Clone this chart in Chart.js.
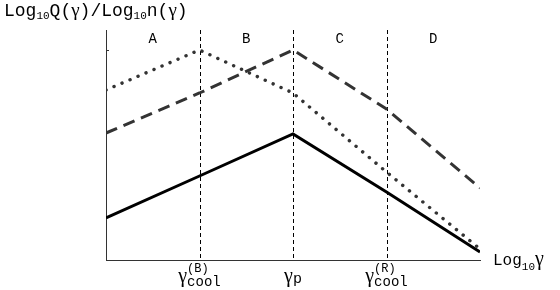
<!DOCTYPE html>
<html>
<head>
<meta charset="utf-8">
<script src="https://cdn.jsdelivr.net/npm/chart.js@4/dist/chart.umd.min.js"></script>
<style>
  html, body { margin: 0; background: #fff; }
  #wrap { width: 560px; height: 290px; }
</style>
</head>
<body>
<div id="wrap"><canvas id="spectra"></canvas></div>
<script>
// log10(gamma) positions of the break points
const logGamma = [0, 1, 2, 3, 4];
const regionNames = ['A', 'B', 'C', 'D'];
// labels under the dashed breaks: [superscript, subscript]
const breakLabels = [['(B)', 'cool'], ['', 'p'], ['(R)', 'cool']];
// curves, read at each break point
const solidVals = [42, 84, 126, 68, 8];
const dottedVals = [170, 210, 167, 88, 11];
const dashedVals = [127, 167, 210, 151, 72];
const yTickLevel = 210;

const MONO = 'Liberation Mono';
const GAMMA = 'Liberation Serif';

function pts(vals) {
  return logGamma.map((x, i) => ({ x: x, y: vals[i] }));
}

// draw text pieces one after another (sub/superscripts);
// a piece with stack:true sits over the previous one instead of after it
function drawRuns(ctx, x, y, runs, align) {
  let w = 0;
  runs.forEach((r, i) => {
    ctx.font = r.f;
    r.w = ctx.measureText(r.t).width;
  });
  runs.forEach((r, i) => {
    if (!r.stack) w += r.w;
    else if (r.w > runs[i - 1].w) w += r.w - runs[i - 1].w;
  });
  let cx = align === 'center' ? x - w / 2 : x;
  let last = 0;
  runs.forEach(r => {
    ctx.font = r.f;
    const px = r.stack ? cx - last : cx;
    ctx.fillText(r.t, px, y + (r.dy || 0));
    if (!r.stack) { cx += r.w; last = r.w; }
  });
}

const guides = {
  id: 'guides',
  beforeDatasetsDraw(chart) {
    const { ctx, chartArea, scales: { x } } = chart;
    ctx.save();
    ctx.strokeStyle = '#000';
    ctx.lineWidth = 1;
    ctx.setLineDash([4, 3]);
    logGamma.slice(1, -1).forEach(v => {
      const px = Math.round(x.getPixelForValue(v)) + 0.5;
      ctx.beginPath();
      ctx.moveTo(px, chartArea.top);
      ctx.lineTo(px, chartArea.bottom);
      ctx.stroke();
    });
    ctx.restore();
  },
  afterDraw(chart) {
    const { ctx, chartArea, scales: { x, y } } = chart;
    ctx.save();
    ctx.fillStyle = '#000';
    ctx.textBaseline = 'alphabetic';

    // small tick on the y axis
    ctx.strokeStyle = '#333';
    ctx.lineWidth = 1;
    const ty = Math.round(y.getPixelForValue(yTickLevel)) + 0.5;
    ctx.beginPath();
    ctx.moveTo(chartArea.left, ty);
    ctx.lineTo(chartArea.left + 3, ty);
    ctx.stroke();

    // region letters
    ctx.font = '14px ' + MONO;
    ctx.textAlign = 'center';
    regionNames.forEach((n, i) => {
      const cx = (x.getPixelForValue(logGamma[i]) + x.getPixelForValue(logGamma[i + 1])) / 2;
      ctx.fillText(n, cx, chartArea.top + 13);
    });
    ctx.textAlign = 'left';

    // break labels under the x axis
    breakLabels.forEach((lb, i) => {
      const cx = x.getPixelForValue(logGamma[i + 1]);
      const runs = [{ t: 'γ', f: '20px ' + GAMMA }];
      if (lb[0]) {
        runs.push({ t: lb[1], f: '14px ' + MONO, dy: 4 });
        runs.push({ t: lb[0], f: '12px ' + MONO, dy: -10, stack: true });
      } else {
        runs.push({ t: lb[1], f: '15px ' + MONO, dy: 1 });
      }
      drawRuns(ctx, cx, chartArea.bottom + 22, runs, 'center');
    });

    // axis titles
    drawRuns(ctx, 4, 16, [
      { t: 'Log', f: '18px ' + MONO },
      { t: '10', f: '11px ' + MONO, dy: 3 },
      { t: 'Q(', f: '18px ' + MONO },
      { t: 'γ', f: '19px ' + GAMMA },
      { t: ')/Log', f: '18px ' + MONO },
      { t: '10', f: '11px ' + MONO, dy: 3 },
      { t: 'n(', f: '18px ' + MONO },
      { t: 'γ', f: '19px ' + GAMMA },
      { t: ')', f: '18px ' + MONO }
    ], 'left');
    drawRuns(ctx, chartArea.right + 13, chartArea.bottom + 5, [
      { t: 'Log', f: '16px ' + MONO },
      { t: '10', f: '11px ' + MONO, dy: 5 },
      { t: 'γ', f: '20px ' + GAMMA }
    ], 'left');
    ctx.restore();
  }
};

new Chart(document.getElementById('spectra'), {
  type: 'line',
  data: {
    datasets: [
      {
        label: 'dashed',
        data: pts(dashedVals),
        borderColor: '#333',
        borderWidth: 3,
        borderDash: [12, 7],
        pointRadius: 0,
        tension: 0
      },
      {
        label: 'dotted',
        data: pts(dottedVals),
        borderColor: '#333',
        borderWidth: 3.4,
        borderDash: [0.1, 8.6],
        borderCapStyle: 'round',
        pointRadius: 0,
        tension: 0
      },
      {
        label: 'solid',
        data: pts(solidVals),
        borderColor: '#000',
        borderWidth: 3,
        pointRadius: 0,
        tension: 0
      }
    ]
  },
  options: {
    responsive: true,
    maintainAspectRatio: false,
    animation: false,
    events: [],
    layout: { padding: { left: 106, right: 80, top: 30, bottom: 30 } },
    plugins: { legend: { display: false }, tooltip: { enabled: false } },
    scales: {
      x: {
        type: 'linear', min: 0, max: 4,
        ticks: { display: false },
        grid: { display: false },
        border: { display: true, color: '#333', width: 1 },
        afterFit: s => { s.height = 0; }
      },
      y: {
        type: 'linear', min: 0, max: 230,
        ticks: { display: false },
        grid: { display: false },
        border: { display: true, color: '#333', width: 1 },
        afterFit: s => { s.width = 0; }
      }
    }
  },
  plugins: [guides]
});
</script>
</body>
</html>
